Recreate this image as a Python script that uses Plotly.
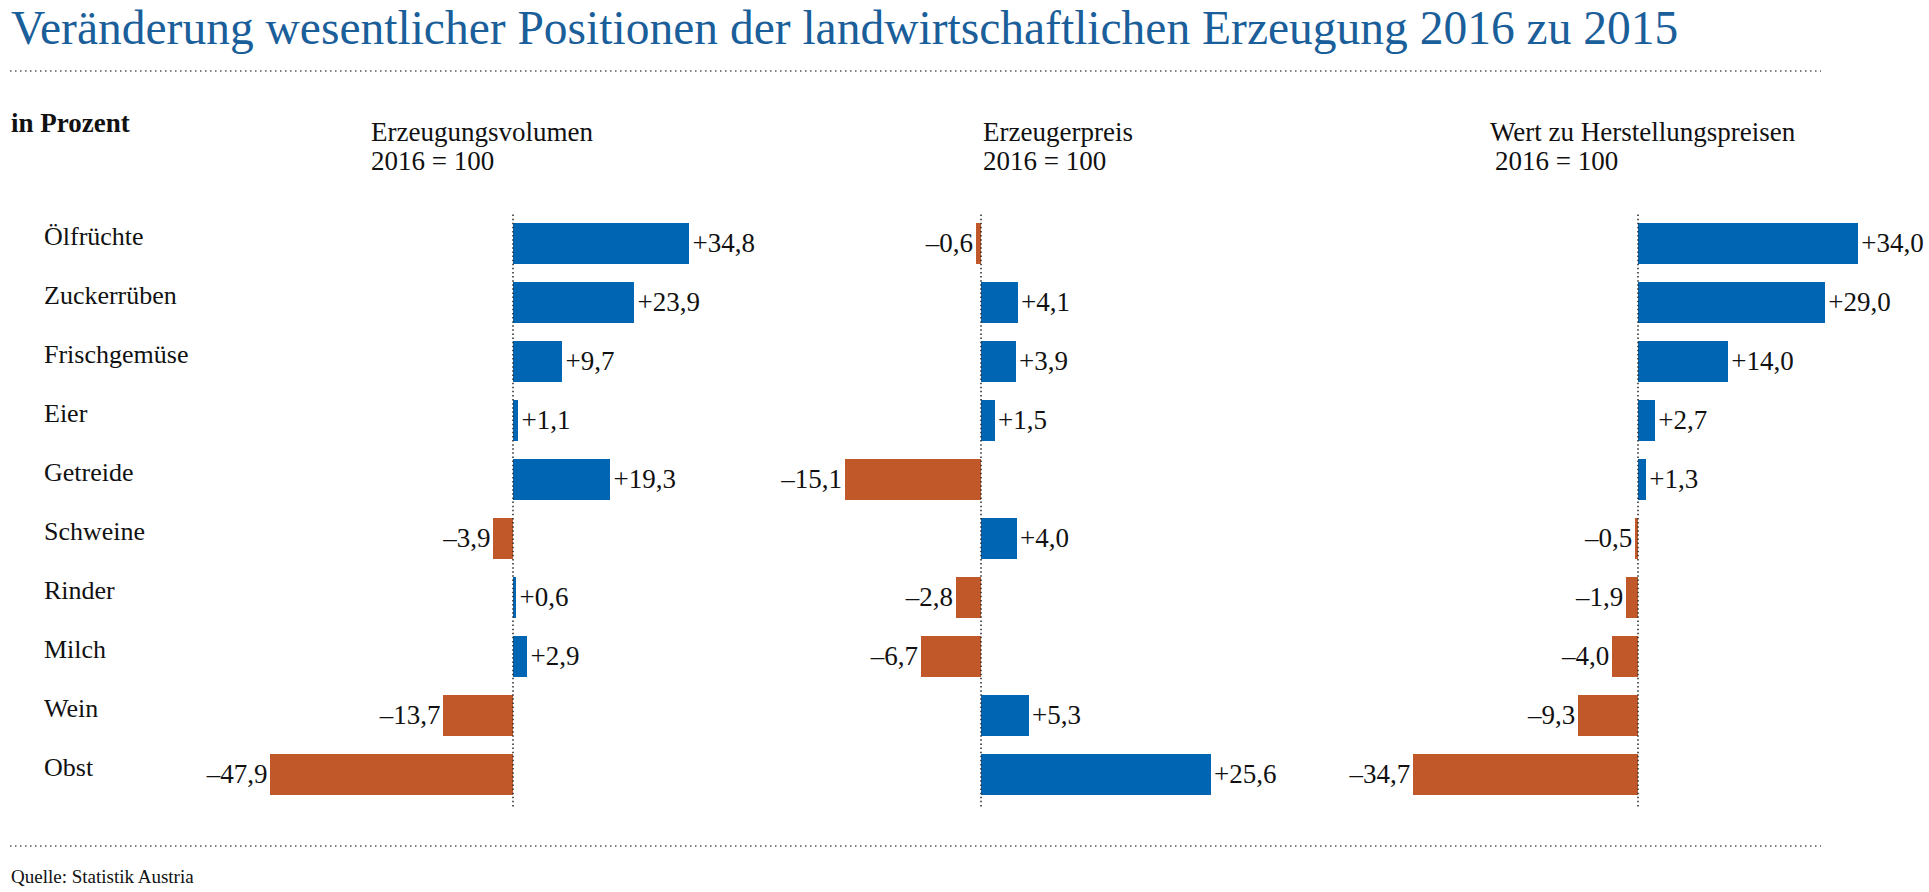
import plotly.graph_objects as go

W, H = 1929, 892

categories = ["Ölfrüchte", "Zuckerrüben", "Frischgemüse", "Eier", "Getreide",
              "Schweine", "Rinder", "Milch", "Wein", "Obst"]
volumen = [34.8, 23.9, 9.7, 1.1, 19.3, -3.9, 0.6, 2.9, -13.7, -47.9]
preis = [-0.6, 4.1, 3.9, 1.5, -15.1, 4.0, -2.8, -6.7, 5.3, 25.6]
wert = [34.0, 29.0, 14.0, 2.7, 1.3, -0.5, -1.9, -4.0, -9.3, -34.7]

panel_titles = ["Erzeugungsvolumen", "Erzeugerpreis", "Wert zu Herstellungspreisen"]
panel_subtitle = "2016 = 100"
title = "Veränderung wesentlicher Positionen der landwirtschaftlichen Erzeugung 2016 zu 2015"
unit_label = "in Prozent"
source = "Quelle: Statistik Austria"

BLUE = "#0066b3"
ORANGE = "#c0582a"
TITLE_BLUE = "#1a5e9a"
FONT = "Liberation Serif"


def px(x):
    return x / W


def py(y):
    return 1 - y / H


def fmt(v):
    s = f"{v:+.1f}".replace(".", ",")
    return s.replace("-", "\u2013")


ypos = list(range(len(categories)))

fig = go.Figure()
series = [volumen, preis, wert]
axes = ["x", "x2", "x3"]
for vals, ax in zip(series, axes):
    fig.add_trace(go.Bar(
        x=vals, y=ypos, orientation="h", xaxis=ax, yaxis="y",
        marker=dict(color=[BLUE if v >= 0 else ORANGE for v in vals], line=dict(width=0)),
        width=0.71,
        text=[fmt(v) for v in vals], textposition="outside", cliponaxis=False,
        constraintext="none",
        textfont=dict(family=FONT, size=27, color="#111"),
        hoverinfo="skip", showlegend=False,
    ))

# axis geometry: (zero pixel, pixels per unit, range)
geo = [(513, 5.06, (-60, 40)), (981, 9.0, (-20, 35)), (1638, 6.47, (-40, 44))]
axis_layout = {}
for i, (z, s, (r0, r1)) in enumerate(geo):
    name = "xaxis" if i == 0 else f"xaxis{i + 1}"
    axis_layout[name] = dict(
        domain=[px(z + r0 * s), px(z + r1 * s)], range=[r0, r1],
        visible=False, fixedrange=True, anchor="y",
    )

ytop, ybot = 213.5, 803.5
fig.update_layout(
    width=W, height=H, autosize=False,
    margin=dict(l=0, r=0, t=0, b=0),
    paper_bgcolor="white", plot_bgcolor="rgba(0,0,0,0)",
    bargap=0,
    yaxis=dict(domain=[py(ybot), py(ytop)], range=[len(categories) - 0.5, -0.5],
               visible=False, fixedrange=True),
    font=dict(family=FONT, color="#111"),
    **axis_layout,
)

shapes = []
# dotted zero lines
for ax in axes:
    shapes.append(dict(type="line", xref=ax, yref="y domain", x0=0, x1=0, y0=-0.005, y1=1.0,
                       line=dict(color="#333", width=1.6, dash="1.5px,2.6px")))
# horizontal dotted rules
for yy in (71, 846):
    shapes.append(dict(type="line", xref="paper", yref="paper", x0=px(10), x1=px(1821),
                       y0=py(yy), y1=py(yy), line=dict(color="#555", width=1.6, dash="1.5px,3.5px")))
fig.update_layout(shapes=shapes)

ann = []
ann.append(dict(text=title, xref="paper", yref="paper", x=px(9), y=py(28), xanchor="left",
                yanchor="middle", showarrow=False,
                font=dict(family=FONT, size=47.5, color=TITLE_BLUE)))
ann.append(dict(text=f"<b>{unit_label}</b>", xref="paper", yref="paper", x=px(9), y=py(123),
                xanchor="left", yanchor="middle", showarrow=False,
                font=dict(family=FONT, size=27, color="#111")))
hdr_x = [(369, 369), (981, 981), (1488, 1493)]
for t, (x1, x2) in zip(panel_titles, hdr_x):
    ann.append(dict(text=t, xref="paper", yref="paper", x=px(x1), y=py(132), xanchor="left",
                    yanchor="middle", showarrow=False, font=dict(family=FONT, size=27, color="#111")))
    ann.append(dict(text=panel_subtitle, xref="paper", yref="paper", x=px(x2), y=py(161),
                    xanchor="left", yanchor="middle", showarrow=False,
                    font=dict(family=FONT, size=27, color="#111")))
for i, c in enumerate(categories):
    ann.append(dict(text=c, xref="paper", yref="y", x=px(42), y=i, xanchor="left",
                    yanchor="middle", yshift=7, showarrow=False,
                    font=dict(family=FONT, size=26, color="#111")))
ann.append(dict(text=source, xref="paper", yref="paper", x=px(9), y=py(876), xanchor="left",
                yanchor="middle", showarrow=False, font=dict(family=FONT, size=19, color="#111")))
fig.update_layout(annotations=ann)

fig.write_html("out.html", config={"displayModeBar": False},
               post_script="document.body.style.margin='0';")
